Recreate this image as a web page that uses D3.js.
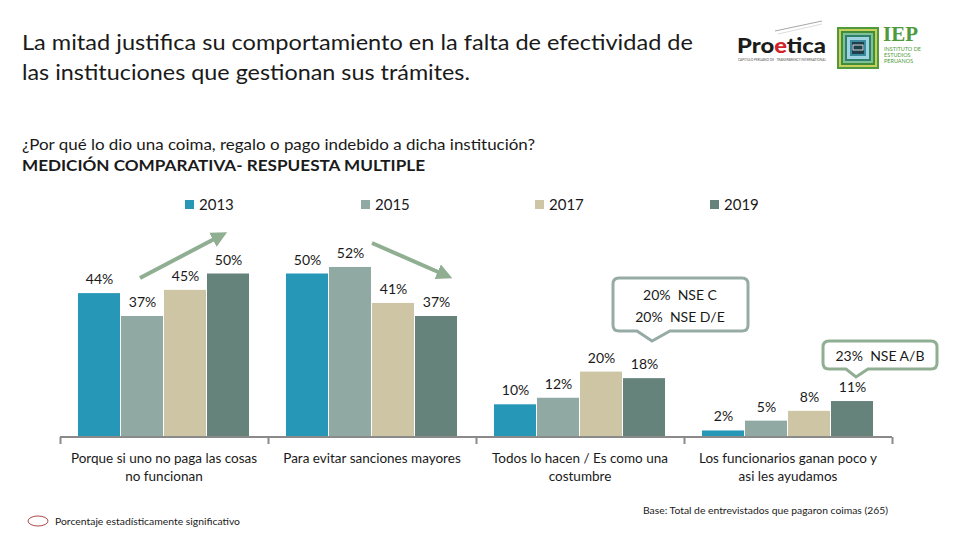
<!DOCTYPE html>
<html><head><meta charset="utf-8">
<script src="https://cdn.jsdelivr.net/npm/d3@7"></script>
<style>body{margin:0;background:#fff}svg{display:block}text{font-family:Lato,"Open Sans",sans-serif;white-space:pre}</style>
</head><body><svg id="c" width="960" height="540"></svg>
<script>
const categories = [
  ["Porque si uno no paga las cosas","no funcionan"],
  ["Para evitar sanciones mayores"],
  ["Todos lo hacen / Es como una","costumbre"],
  ["Los funcionarios ganan poco y","asi les ayudamos"]
];
const years = ["2013","2015","2017","2019"];
const v2013 = [44, 50, 10, 2];
const v2015 = [37, 52, 12, 5];
const v2017 = [45, 41, 20, 8];
const v2019 = [50, 37, 18, 11];
const colors = ["#2797b7","#90a9a3","#cdc5a3","#66837b"];

const series = [v2013, v2015, v2017, v2019];
const svg = d3.select("#c");

function fitText(sel, w){ sel.attr("textLength", w).attr("lengthAdjust","spacingAndGlyphs"); return sel; }

// Title
fitText(svg.append("text").attr("x",22).attr("y",50).attr("font-size",22).attr("fill","#1a1a1a")
  .text("La mitad justifica su comportamiento en la falta de efectividad de"), 671);
fitText(svg.append("text").attr("x",22).attr("y",80).attr("font-size",22).attr("fill","#1a1a1a")
  .text("las instituciones que gestionan sus trámites."), 448);
fitText(svg.append("text").attr("x",22).attr("y",150).attr("font-size",15).attr("fill","#1a1a1a")
  .text("¿Por qué lo dio una coima, regalo o pago indebido a dicha institución?"), 513);
fitText(svg.append("text").attr("x",22).attr("y",171).attr("font-size",15).attr("font-weight","bold").attr("fill","#1a1a1a")
  .text("MEDICIÓN COMPARATIVA- RESPUESTA MULTIPLE"), 403);

// Logos
const lg = svg.append("g");
lg.append("line").attr("x1",775).attr("y1",31).attr("x2",822).attr("y2",21).attr("stroke","#aaa").attr("stroke-width",1.2);
lg.append("line").attr("x1",778).attr("y1",34).attr("x2",822).attr("y2",24).attr("stroke","#ddd").attr("stroke-width",1);
const pt = lg.append("text").attr("x",737).attr("y",53).attr("font-size",21).attr("font-weight",900).attr("fill","#1b1b1b");
pt.append("tspan").text("Pro"); pt.append("tspan").attr("fill","#d2232a").text("e"); pt.append("tspan").text("tica");
fitText(pt, 89);
fitText(lg.append("text").attr("x",738).attr("y",61).attr("font-size",4.5).attr("fill","#555").text("CAPITULO PERUANO DE   TRANSPARENCY INTERNATIONAL"), 88);
const sq = [[837,42,"#4f9a3c"],[839,38,"#c9cf5a"],[841,34,"#3f8f3a"],[843,30,"#7fbf9a"],[845,26,"#2f7f6a"],[847,22,"#9fd3e0"],[850,16,"#3b8aa0"],[852,12,"#1f3f4a"]];
sq.forEach(s=>lg.append("rect").attr("x",s[0]).attr("y",s[0]-810).attr("width",s[1]).attr("height",s[1]).attr("fill",s[2]));
lg.append("rect").attr("x",853).attr("y",45).attr("width",10).attr("height",5).attr("fill","none").attr("stroke","#fff").attr("stroke-width",0.8);
lg.append("text").attr("x",883).attr("y",41).attr("font-size",21).attr("font-weight","bold").style("font-family","'Liberation Serif',serif").attr("fill","#4f9a3c").text("IEP");
["INSTITUTO DE","ESTUDIOS","PERUANOS"].forEach((t,i)=>lg.append("text").attr("x",884).attr("y",51+i*6).attr("font-size",5.5).attr("fill","#4f9a3c").text(t));

// Scales
const x0 = d3.scaleBand().domain(d3.range(categories.length)).range([60,892]).paddingInner(0.173).paddingOuter(0.0865);
const x1 = d3.scaleBand().domain(years).range([0, x0.bandwidth()]);
const y = d3.scaleLinear().domain([0,100]).range([437,110]);

// Legend
const legX = [185,361,535,710];
years.forEach((yr,i)=>{
  svg.append("rect").attr("x",legX[i]).attr("y",200).attr("width",9).attr("height",9).attr("fill",colors[i]);
  svg.append("text").attr("x",legX[i]+14).attr("y",210).attr("font-size",15).attr("fill","#1a1a1a").text(yr);
});

// Bars
const groups = svg.append("g").selectAll("g").data(categories).join("g")
  .attr("transform",(d,i)=>`translate(${x0(i)},0)`);
groups.each(function(d,ci){
  const g = d3.select(this);
  years.forEach((yr,si)=>{
    const v = series[si][ci];
    g.append("rect").attr("x",x1(yr)).attr("y",y(v)).attr("width",x1.bandwidth()-1).attr("height",y(0)-y(v)).attr("fill",colors[si]);
    g.append("text").attr("x",x1(yr)+x1.bandwidth()/2).attr("y",y(v)-9).attr("text-anchor","middle")
      .attr("font-size",14).attr("fill","#1a1a1a").text(v+"%");
  });
});

// Axis
const ax = svg.append("g").attr("transform",`translate(0,437)`);
const axis = d3.axisBottom(d3.scaleLinear().domain([0,4]).range([60,892])).tickValues([0,1,2,3,4]).tickSize(7).tickFormat("");
ax.call(axis);
ax.select(".domain").attr("stroke","#8a8a8a").attr("stroke-width",2).attr("d","M60,0H892");
ax.selectAll(".tick line").attr("stroke","#8a8a8a").attr("stroke-width",2);

// Category labels
categories.forEach((lines,i)=>{
  lines.forEach((t,j)=>{
    svg.append("text").attr("x",x0(i)+x0.bandwidth()/2).attr("y",463+j*18).attr("text-anchor","middle")
      .attr("font-size",13.5).attr("fill","#1a1a1a").text(t);
  });
});

// Arrows
const defs = svg.append("defs");
defs.append("marker").attr("id","ah").attr("viewBox","0 0 10 10").attr("refX",5).attr("refY",5)
  .attr("markerWidth",4).attr("markerHeight",4).attr("orient","auto")
  .append("path").attr("d","M0,0L10,5L0,10z").attr("fill","#8fae92");
svg.append("line").attr("x1",140).attr("y1",278).attr("x2",220).attr("y2",236).attr("stroke","#8fae92").attr("stroke-width",4).attr("marker-end","url(#ah)");
svg.append("line").attr("x1",372).attr("y1",243).attr("x2",445).attr("y2",275).attr("stroke","#8fae92").attr("stroke-width",4).attr("marker-end","url(#ah)");

// Callouts
function callout(x0_,y0_,x1_,y1_,tipX,tipY,bx0,bx1,col){
  const r=6;
  const p = `M${x0_+r},${y0_}H${x1_-r}Q${x1_},${y0_} ${x1_},${y0_+r}V${y1_-r}Q${x1_},${y1_} ${x1_-r},${y1_}H${bx1}L${tipX},${tipY}L${bx0},${y1_}H${x0_+r}Q${x0_},${y1_} ${x0_},${y1_-r}V${y0_+r}Q${x0_},${y0_} ${x0_+r},${y0_}Z`;
  svg.append("path").attr("d",p).attr("fill","#fff").attr("stroke",col).attr("stroke-width",3);
}
callout(613,278,748,331,652,341,637,670,"#97aba6");
svg.append("text").attr("x",680).attr("y",300).attr("text-anchor","middle").attr("font-size",14).attr("fill","#1a1a1a").text("20%  NSE C");
svg.append("text").attr("x",680).attr("y",322).attr("text-anchor","middle").attr("font-size",14).attr("fill","#1a1a1a").text("20%  NSE D/E");
callout(823,341,937,369,856,377,846,868,"#8fae92");
svg.append("text").attr("x",880).attr("y",361).attr("text-anchor","middle").attr("font-size",14).attr("fill","#1a1a1a").text("23%  NSE A/B");

// Footnotes
svg.append("ellipse").attr("cx",38).attr("cy",521).attr("rx",10).attr("ry",5).attr("fill","none").attr("stroke","#b04a4a").attr("stroke-width",1);
fitText(svg.append("text").attr("x",55).attr("y",525).attr("font-size",10).attr("fill","#1a1a1a").text("Porcentaje estadísticamente significativo"), 185);
fitText(svg.append("text").attr("x",643).attr("y",514).attr("font-size",10).attr("fill","#1a1a1a").text("Base: Total de entrevistados que pagaron coimas (265)"), 245);
</script></body></html>
